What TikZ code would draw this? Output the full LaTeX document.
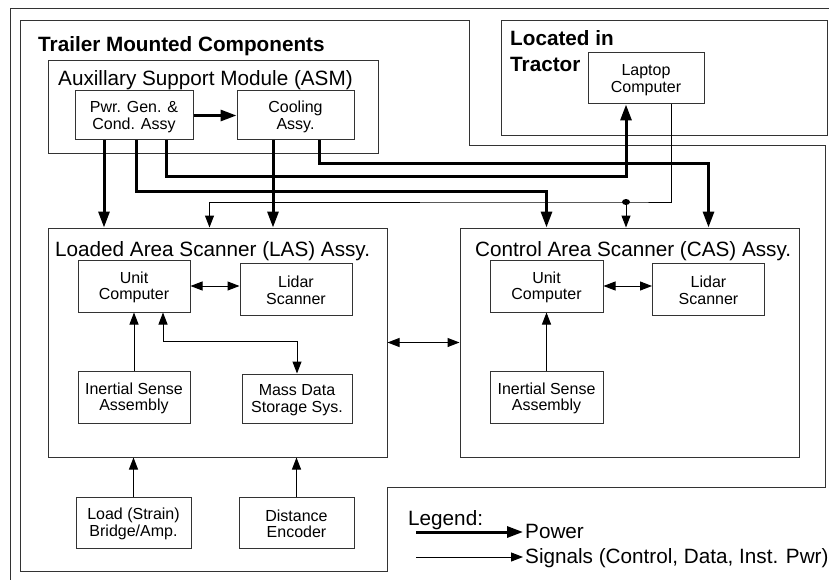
\documentclass[tikz,border=0pt]{standalone}
\usepackage{fontspec}
\setmainfont{Liberation Sans}
\usetikzlibrary{arrows.meta}
\tikzset{
  frame/.style={draw=black!80, line width=1pt},
  unit/.style={draw=black!80, line width=1pt, minimum width=112pt, minimum height=52pt, align=center, inner sep=0pt, font=\fontsize{16}{16.5}\selectfont, execute at begin node=\rule{0pt}{31pt}},
  group/.style={draw=black!80, line width=1pt, minimum width=339pt, minimum height=229pt, inner sep=0pt},
  heading/.style={anchor=base west, inner sep=0pt, font=\fontsize{20.7}{26}\selectfont},
  bold heading/.style={heading, font=\fontsize{20.7}{26}\selectfont\bfseries},
  power/.style={line width=3pt, -{Triangle[length=16pt,width=11pt]}},
  signal/.style={line width=1pt, -{Triangle[length=12pt,width=9pt]}},
  both ways/.style={line width=1pt, {Triangle[length=12pt,width=9pt]}-{Triangle[length=12pt,width=9pt]}},
}
\begin{document}
\begin{tikzpicture}[x=1pt,y=-1pt]
        \useasboundingbox (0,0) rectangle (829,580);
        \draw[frame] (10,580) -- (10,9) -- (829,9);
        \draw[frame] (20,21) -- (469,21) -- (469,146) -- (825,146) -- (825,487) -- (387,487) -- (387,571) -- (20,571) -- cycle;
        \draw[frame] (501,21) rectangle (827,136);
        \draw[frame] (48,61) rectangle (378,154);

        \node[group] (las) at (217.5,342.5) {};
        \node[group] (cas) at (629.5,342.5) {};

        \node[bold heading] (trailer) at (38,52) {Trailer Mounted Components};
        \node[bold heading] (located) at (510,46) {Located in};
        \node[bold heading] (tractor) at (510,72) {Tractor};
        \node[heading] (asmtitle) at (58,86) {Auxillary Support Module (ASM)};
        \node[heading] (lastitle) at (55,256) {Loaded Area Scanner (LAS) Assy.};
        \node[heading] (castitle) at (475,256) {Control Area Scanner (CAS) Assy.};

        \node[unit, minimum width=118pt, minimum height=49pt] (pwr) at (134,115.5) {Pwr. Gen. \&\\Cond. Assy};
        \node[unit, minimum width=117pt, minimum height=49pt] (cool) at (295.5,115.5) {Cooling\\Assy.};
        \node[unit, minimum width=116pt, minimum height=51pt] (laptop) at (646,78.5) {Laptop\\Computer};

        \node[unit] (lasuc) at (134,286) {Unit\\Computer};
        \node[unit] (laslid) at (296,289) {Lidar\\Scanner};
        \node[unit] (lasins) at (134,397) {Inertial Sense\\Assembly};
        \node[unit, minimum width=110pt, minimum height=49pt] (lasmass) at (297,398.5) {Mass Data\\Storage Sys.};

        \node[unit, minimum width=113pt] (casuc) at (546.5,286) {Unit\\Computer};
        \node[unit] (caslid) at (708.5,289) {Lidar\\Scanner};
        \node[unit, minimum width=113pt] (casins) at (546.5,397) {Inertial Sense\\Assembly};

        \node[unit, minimum width=115pt, minimum height=51pt] (load) at (133.5,522.5) {Load (Strain)\\Bridge/Amp.};
        \node[unit, minimum width=115pt, minimum height=51pt] (dist) at (296.5,522.5) {Distance\\Encoder};

        \draw[power] (pwr) -- (cool);
        \draw[power] ([xshift=-30pt]pwr.south) -- ([xshift=-30pt]pwr.south |- las.north);
        \draw[power] ([xshift=2pt]pwr.south) -- ++(0,51) -| (casuc |- cas.north);
        \draw[power] ([xshift=32pt]pwr.south) -- ++(0,36) -| ([xshift=-20pt]laptop.south);
        \draw[power] ([xshift=-22.5pt]cool.south) -- ([xshift=-22.5pt]cool.south |- las.north);
        \draw[power] ([xshift=23.5pt]cool.south) -- ++(0,23) -| (caslid |- cas.north);

        \coordinate (tap) at (626,202);
        \draw[signal] ([xshift=25pt]laptop.south) |- (tap) -| ([xshift=162pt]las.north west);
        \fill (tap) ellipse (4pt and 3pt);
        \draw[signal] (tap) -- (tap |- cas.north);

        \draw[both ways] (lasuc.east) -- (lasuc.east -| laslid.west);
        \draw[signal] (lasins) -- (lasuc);
        \draw[both ways] ([xshift=29pt]lasuc.south) -- ++(0,29) -| (lasmass.north);
        \draw[both ways] (las) -- (cas);
        \draw[both ways] (casuc.east) -- (casuc.east -| caslid.west);
        \draw[signal] (casins) -- (casuc);
        \draw[signal] (load) -- (load |- las.south);
        \draw[signal] (dist) -- (dist |- las.south);

        \node[heading] (legend) at (408,525) {Legend:};
        \node[heading] (powertxt) at (525,538) {Power};
        \node[heading] (signaltxt) at (525,563) {Signals (Control, Data, Inst. Pwr)};
        \coordinate (powerstart) at (416,532);
        \coordinate (signalstart) at (416,557);
        \draw[power] (powerstart) -- ([xshift=-2pt]powerstart -| powertxt.west);
        \draw[signal] (signalstart) -- ([xshift=-2pt]signalstart -| signaltxt.west);
\end{tikzpicture}
\end{document}
